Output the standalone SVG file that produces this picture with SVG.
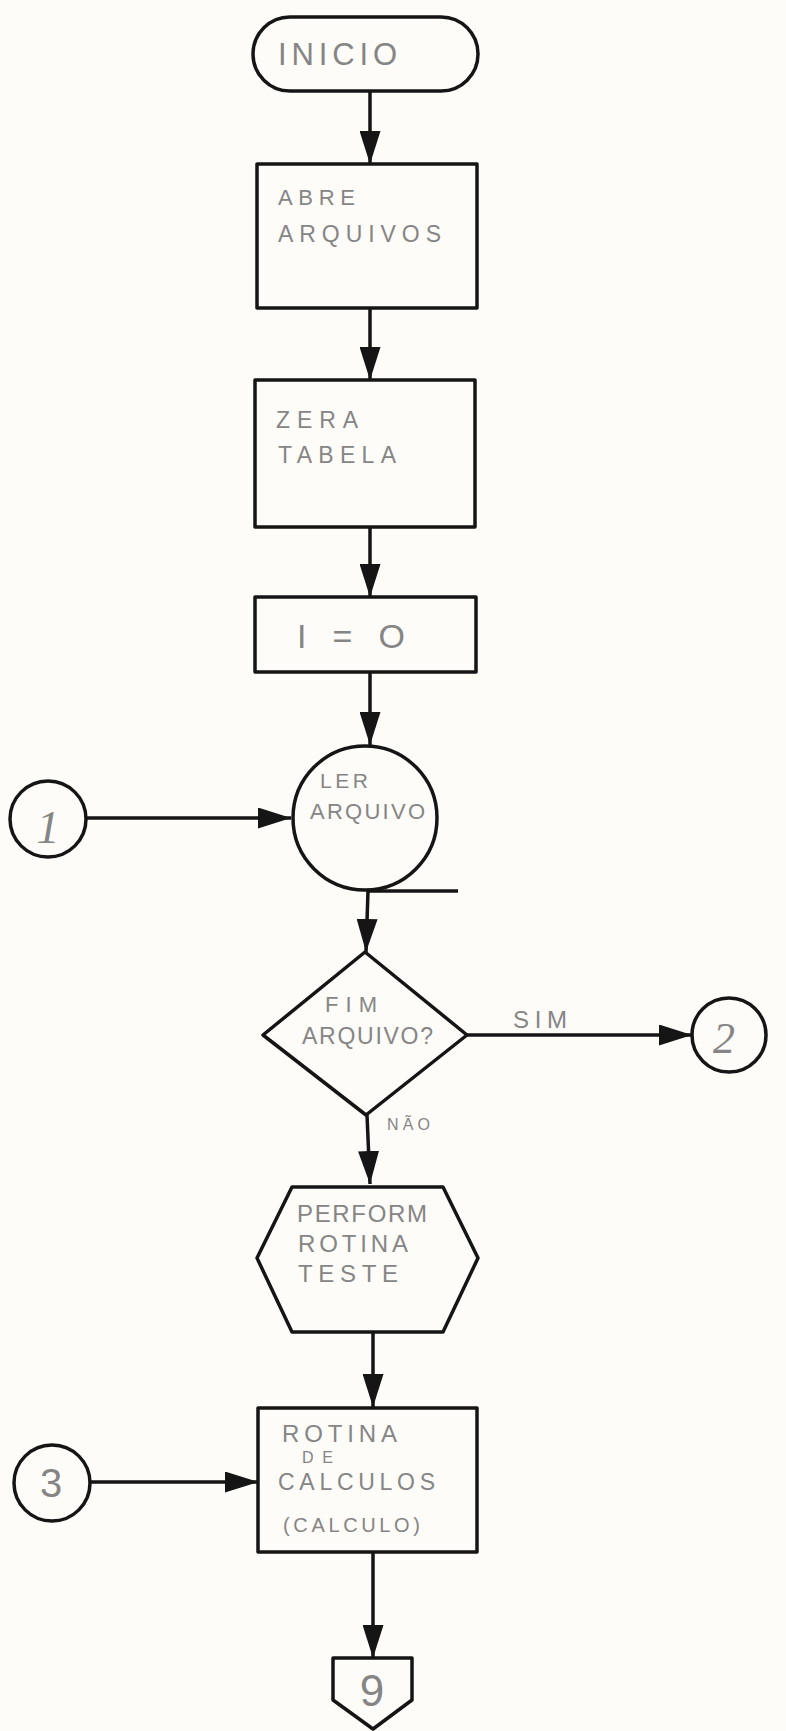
<svg xmlns="http://www.w3.org/2000/svg" width="786" height="1731" viewBox="0 0 786 1731">
<style>
.s{fill:none;stroke:#151515;stroke-width:3.5;stroke-linejoin:round}
.n{fill:#fdfcf8;stroke:#151515;stroke-width:3.5;stroke-linejoin:round}
.t{font-family:"Liberation Sans",Arial,sans-serif;fill:#858585;font-weight:normal}
.d{font-family:"Liberation Serif","Times New Roman",serif;fill:#858585;font-style:italic}
</style>
<defs>
<marker id="ah" markerUnits="userSpaceOnUse" markerWidth="33" markerHeight="21" refX="33" refY="10.5" orient="auto">
<path d="M0,0 L33,10.5 L0,21 z" fill="#151515"/>
</marker>
</defs>
<rect x="0" y="0" width="786" height="1731" fill="#fdfcf8"/>

<g id="connectors">
<line class="s" x1="370" y1="91" x2="370" y2="164" marker-end="url(#ah)"/>
<line class="s" x1="370" y1="308" x2="370" y2="380" marker-end="url(#ah)"/>
<line class="s" x1="370" y1="527" x2="370" y2="597" marker-end="url(#ah)"/>
<line class="s" x1="370" y1="672" x2="370" y2="745" marker-end="url(#ah)"/>
<line class="s" x1="86" y1="818" x2="291" y2="818" marker-end="url(#ah)"/>
<line class="s" x1="368" y1="891" x2="458" y2="891"/>
<line class="s" x1="368" y1="891" x2="366" y2="952" marker-end="url(#ah)"/>
<line class="s" x1="467" y1="1035" x2="692" y2="1035" marker-end="url(#ah)"/>
<line class="s" x1="367" y1="1115" x2="370" y2="1184" marker-end="url(#ah)"/>
<line class="s" x1="373" y1="1332" x2="373" y2="1407" marker-end="url(#ah)"/>
<line class="s" x1="90" y1="1482" x2="258" y2="1482" marker-end="url(#ah)"/>
<line class="s" x1="373" y1="1552" x2="373" y2="1658" marker-end="url(#ah)"/>
<text class="t" x="513" y="1028" font-size="24" textLength="54" lengthAdjust="spacing">SIM</text>
<text class="t" x="387" y="1130" font-size="16" textLength="43" lengthAdjust="spacing">NÃO</text>
</g>

<g id="inicio">
<rect class="n" x="253" y="17" width="225" height="74" rx="37" ry="37"/>
<text class="t" x="278" y="65" font-size="31" textLength="119" lengthAdjust="spacing">INICIO</text>
</g>

<g id="abre-arquivos">
<rect class="n" x="257" y="164" width="220" height="144"/>
<text class="t" x="278" y="205" font-size="22" textLength="77" lengthAdjust="spacing">ABRE</text>
<text class="t" x="278" y="242" font-size="23" textLength="163" lengthAdjust="spacing">ARQUIVOS</text>
</g>

<g id="zera-tabela">
<rect class="n" x="255" y="380" width="220" height="147"/>
<text class="t" x="276" y="428" font-size="23" textLength="82" lengthAdjust="spacing">ZERA</text>
<text class="t" x="278" y="463" font-size="23" textLength="118" lengthAdjust="spacing">TABELA</text>
</g>

<g id="i-zero">
<rect class="n" x="255" y="597" width="221" height="75"/>
<text class="t" x="297" y="648" font-size="34" textLength="108" lengthAdjust="spacing">I = O</text>
</g>

<g id="ler-arquivo">
<circle class="n" cx="365" cy="818" r="72"/>
<text class="t" x="320" y="788" font-size="21" textLength="48" lengthAdjust="spacing">LER</text>
<text class="t" x="310" y="819" font-size="22" textLength="115" lengthAdjust="spacing">ARQUIVO</text>
</g>

<g id="conector-1">
<circle class="n" cx="48" cy="819" r="38"/>
<text class="d" x="48" y="843" font-size="46" text-anchor="middle">1</text>
</g>

<g id="fim-arquivo">
<polygon class="n" points="365,952 467,1035 366,1115 263,1035"/>
<text class="t" x="325" y="1012" font-size="22" textLength="52" lengthAdjust="spacing">FIM</text>
<text class="t" x="302" y="1044" font-size="23" textLength="131" lengthAdjust="spacing">ARQUIVO?</text>
</g>

<g id="conector-2">
<circle class="n" cx="729" cy="1035" r="37"/>
<text class="d" x="724" y="1053" font-size="44" text-anchor="middle">2</text>
</g>

<g id="perform-rotina-teste">
<polygon class="n" points="292,1187 443,1187 478,1258 443,1332 292,1332 257,1258"/>
<text class="t" x="297" y="1222" font-size="24" textLength="130" lengthAdjust="spacing">PERFORM</text>
<text class="t" x="298" y="1252" font-size="24" textLength="110" lengthAdjust="spacing">ROTINA</text>
<text class="t" x="298" y="1282" font-size="24" textLength="100" lengthAdjust="spacing">TESTE</text>
</g>

<g id="rotina-calculos">
<rect class="n" x="258" y="1408" width="219" height="144"/>
<text class="t" x="282" y="1442" font-size="24" textLength="115" lengthAdjust="spacing">ROTINA</text>
<text class="t" x="302" y="1463" font-size="16" textLength="31" lengthAdjust="spacing">DE</text>
<text class="t" x="278" y="1490" font-size="23" textLength="157" lengthAdjust="spacing">CALCULOS</text>
<text class="t" x="283" y="1532" font-size="20" textLength="137" lengthAdjust="spacing">(CALCULO)</text>
</g>

<g id="conector-3">
<circle class="n" cx="52" cy="1483" r="38"/>
<text class="t" x="51" y="1497" font-size="40" text-anchor="middle">3</text>
</g>

<g id="conector-9">
<polygon class="n" points="333,1658 412,1658 412,1700 373,1729 333,1700"/>
<text class="t" x="372" y="1706" font-size="44" text-anchor="middle">9</text>
</g>
</svg>
